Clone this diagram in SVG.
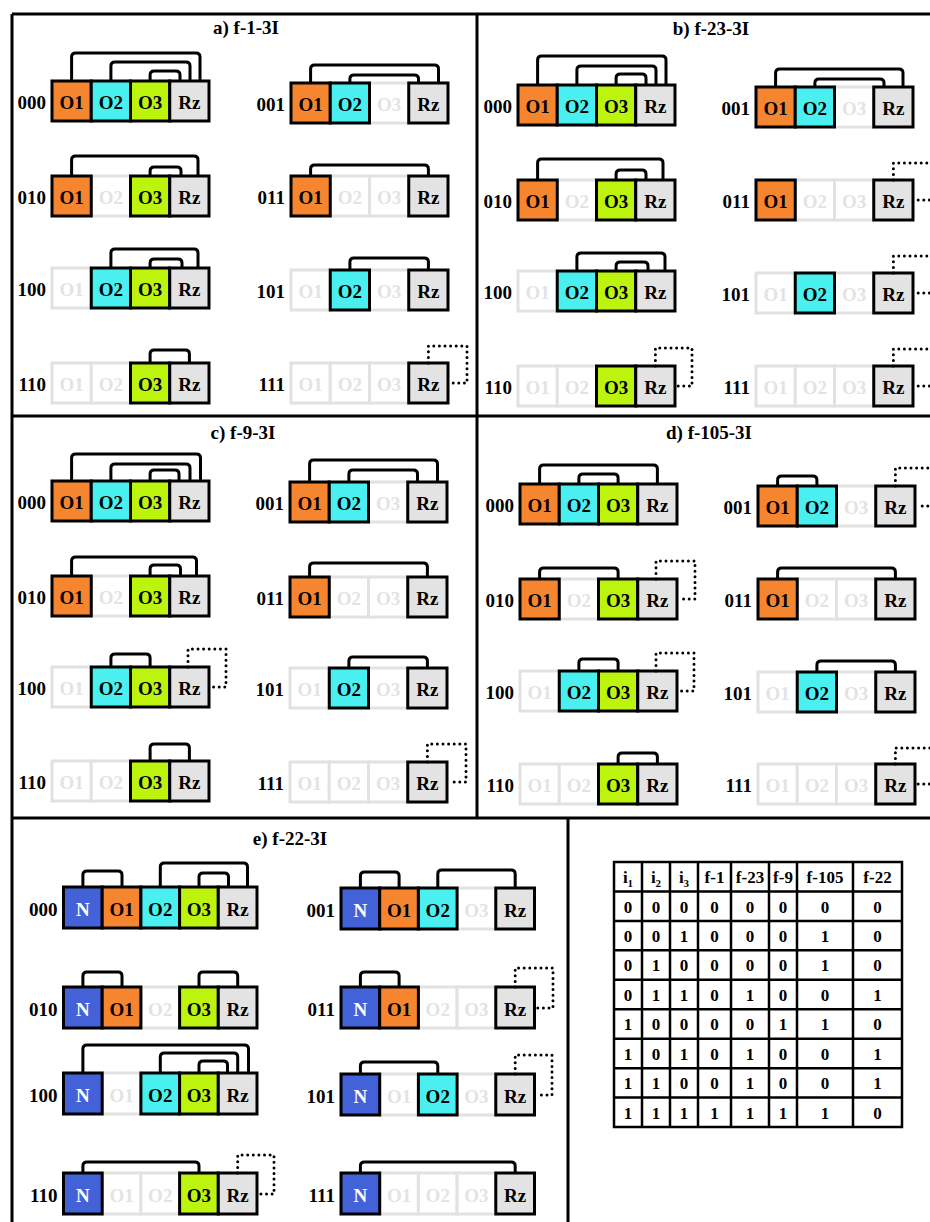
<svg xmlns="http://www.w3.org/2000/svg" width="930" height="1222" viewBox="0 0 930 1222">
<style>
.bg{fill:#fff}
.frame{fill:none;stroke:#000;stroke-width:3}
.on{stroke:#000;stroke-width:3}
.off{fill:#fff;stroke:#e2e2e2;stroke-width:3}
.o1{fill:#f5852f}.o2{fill:#4af0f0}.o3{fill:#bdf40d}.rz{fill:#e3e3e3}.n{fill:#4462d8}
text{font-family:"Liberation Serif","Times New Roman",serif;font-weight:bold}
.t{font-size:19px;text-anchor:middle;fill:#000}
.f{fill:#e3e3e3}
.w{fill:#fff}
.lab{font-size:19px;text-anchor:end}
.ttl{font-size:19px;text-anchor:middle}
.conn{fill:none;stroke:#000;stroke-width:3}
.dot{fill:none;stroke:#000;stroke-width:3;stroke-dasharray:0 5.6;stroke-linecap:round}
.tb{fill:none;stroke:#000;stroke-width:2.5}
.tt{font-size:17px;text-anchor:middle}
</style>
<rect class="bg" width="930" height="1222"/>
<g id="frames">
<path class="frame" d="M12 14H930M12 14V1222M477 14V818M12 416H930M12 818H930M568 818V1222"/>
</g>
<g id="titles">
<text class="ttl" x="246" y="34">a) f-1-3I</text>
<text class="ttl" x="711" y="35">b) f-23-3I</text>
<text class="ttl" x="243" y="439">c) f-9-3I</text>
<text class="ttl" x="709" y="439">d) f-105-3I</text>
<text class="ttl" x="290" y="845">e) f-22-3I</text>
</g>

<!-- Panel a -->
<g id="a000" transform="translate(52,81)">
<rect class="on o1" width="39.25" height="40"/><rect class="on o2" x="39.25" width="39.25" height="40"/><rect class="on o3" x="78.5" width="39.25" height="40"/><rect class="on rz" x="117.75" width="39.25" height="40"/>
<text class="t" x="19.6" y="28">O1</text><text class="t" x="58.9" y="28">O2</text><text class="t" x="98.1" y="28">O3</text><text class="t" x="137.4" y="28">Rz</text>
<text class="lab" x="-6" y="28">000</text>
</g>
<g id="a001" transform="translate(291,83)">
<rect class="off" x="78.5" width="39.25" height="40"/>
<rect class="on o1" width="39.25" height="40"/><rect class="on o2" x="39.25" width="39.25" height="40"/><rect class="on rz" x="117.75" width="39.25" height="40"/>
<text class="t" x="19.6" y="28">O1</text><text class="t" x="58.9" y="28">O2</text><text class="t f" x="98.1" y="28">O3</text><text class="t" x="137.4" y="28">Rz</text>
<text class="lab" x="-6" y="28">001</text>
</g>
<g id="a010" transform="translate(52,176)">
<rect class="off" x="39.25" width="39.25" height="40"/>
<rect class="on o1" width="39.25" height="40"/><rect class="on o3" x="78.5" width="39.25" height="40"/><rect class="on rz" x="117.75" width="39.25" height="40"/>
<text class="t" x="19.6" y="28">O1</text><text class="t f" x="58.9" y="28">O2</text><text class="t" x="98.1" y="28">O3</text><text class="t" x="137.4" y="28">Rz</text>
<text class="lab" x="-6" y="28">010</text>
</g>
<g id="a011" transform="translate(291,176)">
<rect class="off" x="39.25" width="39.25" height="40"/><rect class="off" x="78.5" width="39.25" height="40"/>
<rect class="on o1" width="39.25" height="40"/><rect class="on rz" x="117.75" width="39.25" height="40"/>
<text class="t" x="19.6" y="28">O1</text><text class="t f" x="58.9" y="28">O2</text><text class="t f" x="98.1" y="28">O3</text><text class="t" x="137.4" y="28">Rz</text>
<text class="lab" x="-6" y="28">011</text>
</g>
<g id="a100" transform="translate(52,268)">
<rect class="off" width="39.25" height="40"/>
<rect class="on o2" x="39.25" width="39.25" height="40"/><rect class="on o3" x="78.5" width="39.25" height="40"/><rect class="on rz" x="117.75" width="39.25" height="40"/>
<text class="t f" x="19.6" y="28">O1</text><text class="t" x="58.9" y="28">O2</text><text class="t" x="98.1" y="28">O3</text><text class="t" x="137.4" y="28">Rz</text>
<text class="lab" x="-6" y="28">100</text>
</g>
<g id="a101" transform="translate(291,270)">
<rect class="off" width="39.25" height="40"/><rect class="off" x="78.5" width="39.25" height="40"/>
<rect class="on o2" x="39.25" width="39.25" height="40"/><rect class="on rz" x="117.75" width="39.25" height="40"/>
<text class="t f" x="19.6" y="28">O1</text><text class="t" x="58.9" y="28">O2</text><text class="t f" x="98.1" y="28">O3</text><text class="t" x="137.4" y="28">Rz</text>
<text class="lab" x="-6" y="28">101</text>
</g>
<g id="a110" transform="translate(52,363)">
<rect class="off" width="39.25" height="40"/><rect class="off" x="39.25" width="39.25" height="40"/>
<rect class="on o3" x="78.5" width="39.25" height="40"/><rect class="on rz" x="117.75" width="39.25" height="40"/>
<text class="t f" x="19.6" y="28">O1</text><text class="t f" x="58.9" y="28">O2</text><text class="t" x="98.1" y="28">O3</text><text class="t" x="137.4" y="28">Rz</text>
<text class="lab" x="-6" y="28">110</text>
</g>
<g id="a111" transform="translate(291,363)">
<rect class="off" width="39.25" height="40"/><rect class="off" x="39.25" width="39.25" height="40"/><rect class="off" x="78.5" width="39.25" height="40"/>
<rect class="on rz" x="117.75" width="39.25" height="40"/>
<text class="t f" x="19.6" y="28">O1</text><text class="t f" x="58.9" y="28">O2</text><text class="t f" x="98.1" y="28">O3</text><text class="t" x="137.4" y="28">Rz</text>
<text class="lab" x="-6" y="28">111</text>
</g>

<!-- Panel b -->
<g id="b000" transform="translate(518,85)">
<rect class="on o1" width="39.25" height="40"/><rect class="on o2" x="39.25" width="39.25" height="40"/><rect class="on o3" x="78.5" width="39.25" height="40"/><rect class="on rz" x="117.75" width="39.25" height="40"/>
<text class="t" x="19.6" y="28">O1</text><text class="t" x="58.9" y="28">O2</text><text class="t" x="98.1" y="28">O3</text><text class="t" x="137.4" y="28">Rz</text>
<text class="lab" x="-6" y="28">000</text>
</g>
<g id="b001" transform="translate(756,87)">
<rect class="off" x="78.5" width="39.25" height="40"/>
<rect class="on o1" width="39.25" height="40"/><rect class="on o2" x="39.25" width="39.25" height="40"/><rect class="on rz" x="117.75" width="39.25" height="40"/>
<text class="t" x="19.6" y="28">O1</text><text class="t" x="58.9" y="28">O2</text><text class="t f" x="98.1" y="28">O3</text><text class="t" x="137.4" y="28">Rz</text>
<text class="lab" x="-6" y="28">001</text>
</g>
<g id="b010" transform="translate(518,180)">
<rect class="off" x="39.25" width="39.25" height="40"/>
<rect class="on o1" width="39.25" height="40"/><rect class="on o3" x="78.5" width="39.25" height="40"/><rect class="on rz" x="117.75" width="39.25" height="40"/>
<text class="t" x="19.6" y="28">O1</text><text class="t f" x="58.9" y="28">O2</text><text class="t" x="98.1" y="28">O3</text><text class="t" x="137.4" y="28">Rz</text>
<text class="lab" x="-6" y="28">010</text>
</g>
<g id="b011" transform="translate(756,180)">
<rect class="off" x="39.25" width="39.25" height="40"/><rect class="off" x="78.5" width="39.25" height="40"/>
<rect class="on o1" width="39.25" height="40"/><rect class="on rz" x="117.75" width="39.25" height="40"/>
<text class="t" x="19.6" y="28">O1</text><text class="t f" x="58.9" y="28">O2</text><text class="t f" x="98.1" y="28">O3</text><text class="t" x="137.4" y="28">Rz</text>
<text class="lab" x="-6" y="28">011</text>
</g>
<g id="b100" transform="translate(518,271)">
<rect class="off" width="39.25" height="40"/>
<rect class="on o2" x="39.25" width="39.25" height="40"/><rect class="on o3" x="78.5" width="39.25" height="40"/><rect class="on rz" x="117.75" width="39.25" height="40"/>
<text class="t f" x="19.6" y="28">O1</text><text class="t" x="58.9" y="28">O2</text><text class="t" x="98.1" y="28">O3</text><text class="t" x="137.4" y="28">Rz</text>
<text class="lab" x="-6" y="28">100</text>
</g>
<g id="b101" transform="translate(756,273)">
<rect class="off" width="39.25" height="40"/><rect class="off" x="78.5" width="39.25" height="40"/>
<rect class="on o2" x="39.25" width="39.25" height="40"/><rect class="on rz" x="117.75" width="39.25" height="40"/>
<text class="t f" x="19.6" y="28">O1</text><text class="t" x="58.9" y="28">O2</text><text class="t f" x="98.1" y="28">O3</text><text class="t" x="137.4" y="28">Rz</text>
<text class="lab" x="-6" y="28">101</text>
</g>
<g id="b110" transform="translate(518,366)">
<rect class="off" width="39.25" height="40"/><rect class="off" x="39.25" width="39.25" height="40"/>
<rect class="on o3" x="78.5" width="39.25" height="40"/><rect class="on rz" x="117.75" width="39.25" height="40"/>
<text class="t f" x="19.6" y="28">O1</text><text class="t f" x="58.9" y="28">O2</text><text class="t" x="98.1" y="28">O3</text><text class="t" x="137.4" y="28">Rz</text>
<text class="lab" x="-6" y="28">110</text>
</g>
<g id="b111" transform="translate(756,366)">
<rect class="off" width="39.25" height="40"/><rect class="off" x="39.25" width="39.25" height="40"/><rect class="off" x="78.5" width="39.25" height="40"/>
<rect class="on rz" x="117.75" width="39.25" height="40"/>
<text class="t f" x="19.6" y="28">O1</text><text class="t f" x="58.9" y="28">O2</text><text class="t f" x="98.1" y="28">O3</text><text class="t" x="137.4" y="28">Rz</text>
<text class="lab" x="-6" y="28">111</text>
</g>

<!-- Panel c -->
<g id="c000" transform="translate(52,481)">
<rect class="on o1" width="39.25" height="40"/><rect class="on o2" x="39.25" width="39.25" height="40"/><rect class="on o3" x="78.5" width="39.25" height="40"/><rect class="on rz" x="117.75" width="39.25" height="40"/>
<text class="t" x="19.6" y="28">O1</text><text class="t" x="58.9" y="28">O2</text><text class="t" x="98.1" y="28">O3</text><text class="t" x="137.4" y="28">Rz</text>
<text class="lab" x="-6" y="28">000</text>
</g>
<g id="c001" transform="translate(290,482)">
<rect class="off" x="78.5" width="39.25" height="40"/>
<rect class="on o1" width="39.25" height="40"/><rect class="on o2" x="39.25" width="39.25" height="40"/><rect class="on rz" x="117.75" width="39.25" height="40"/>
<text class="t" x="19.6" y="28">O1</text><text class="t" x="58.9" y="28">O2</text><text class="t f" x="98.1" y="28">O3</text><text class="t" x="137.4" y="28">Rz</text>
<text class="lab" x="-6" y="28">001</text>
</g>
<g id="c010" transform="translate(52,576)">
<rect class="off" x="39.25" width="39.25" height="40"/>
<rect class="on o1" width="39.25" height="40"/><rect class="on o3" x="78.5" width="39.25" height="40"/><rect class="on rz" x="117.75" width="39.25" height="40"/>
<text class="t" x="19.6" y="28">O1</text><text class="t f" x="58.9" y="28">O2</text><text class="t" x="98.1" y="28">O3</text><text class="t" x="137.4" y="28">Rz</text>
<text class="lab" x="-6" y="28">010</text>
</g>
<g id="c011" transform="translate(290,577)">
<rect class="off" x="39.25" width="39.25" height="40"/><rect class="off" x="78.5" width="39.25" height="40"/>
<rect class="on o1" width="39.25" height="40"/><rect class="on rz" x="117.75" width="39.25" height="40"/>
<text class="t" x="19.6" y="28">O1</text><text class="t f" x="58.9" y="28">O2</text><text class="t f" x="98.1" y="28">O3</text><text class="t" x="137.4" y="28">Rz</text>
<text class="lab" x="-6" y="28">011</text>
</g>
<g id="c100" transform="translate(52,667)">
<rect class="off" width="39.25" height="40"/>
<rect class="on o2" x="39.25" width="39.25" height="40"/><rect class="on o3" x="78.5" width="39.25" height="40"/><rect class="on rz" x="117.75" width="39.25" height="40"/>
<text class="t f" x="19.6" y="28">O1</text><text class="t" x="58.9" y="28">O2</text><text class="t" x="98.1" y="28">O3</text><text class="t" x="137.4" y="28">Rz</text>
<text class="lab" x="-6" y="28">100</text>
</g>
<g id="c101" transform="translate(290,668)">
<rect class="off" width="39.25" height="40"/><rect class="off" x="78.5" width="39.25" height="40"/>
<rect class="on o2" x="39.25" width="39.25" height="40"/><rect class="on rz" x="117.75" width="39.25" height="40"/>
<text class="t f" x="19.6" y="28">O1</text><text class="t" x="58.9" y="28">O2</text><text class="t f" x="98.1" y="28">O3</text><text class="t" x="137.4" y="28">Rz</text>
<text class="lab" x="-6" y="28">101</text>
</g>
<g id="c110" transform="translate(52,761)">
<rect class="off" width="39.25" height="40"/><rect class="off" x="39.25" width="39.25" height="40"/>
<rect class="on o3" x="78.5" width="39.25" height="40"/><rect class="on rz" x="117.75" width="39.25" height="40"/>
<text class="t f" x="19.6" y="28">O1</text><text class="t f" x="58.9" y="28">O2</text><text class="t" x="98.1" y="28">O3</text><text class="t" x="137.4" y="28">Rz</text>
<text class="lab" x="-6" y="28">110</text>
</g>
<g id="c111" transform="translate(290,762)">
<rect class="off" width="39.25" height="40"/><rect class="off" x="39.25" width="39.25" height="40"/><rect class="off" x="78.5" width="39.25" height="40"/>
<rect class="on rz" x="117.75" width="39.25" height="40"/>
<text class="t f" x="19.6" y="28">O1</text><text class="t f" x="58.9" y="28">O2</text><text class="t f" x="98.1" y="28">O3</text><text class="t" x="137.4" y="28">Rz</text>
<text class="lab" x="-6" y="28">111</text>
</g>

<!-- Panel d -->
<g id="d000" transform="translate(520,484)">
<rect class="on o1" width="39.25" height="40"/><rect class="on o2" x="39.25" width="39.25" height="40"/><rect class="on o3" x="78.5" width="39.25" height="40"/><rect class="on rz" x="117.75" width="39.25" height="40"/>
<text class="t" x="19.6" y="28">O1</text><text class="t" x="58.9" y="28">O2</text><text class="t" x="98.1" y="28">O3</text><text class="t" x="137.4" y="28">Rz</text>
<text class="lab" x="-6" y="28">000</text>
</g>
<g id="d001" transform="translate(758,486)">
<rect class="off" x="78.5" width="39.25" height="40"/>
<rect class="on o1" width="39.25" height="40"/><rect class="on o2" x="39.25" width="39.25" height="40"/><rect class="on rz" x="117.75" width="39.25" height="40"/>
<text class="t" x="19.6" y="28">O1</text><text class="t" x="58.9" y="28">O2</text><text class="t f" x="98.1" y="28">O3</text><text class="t" x="137.4" y="28">Rz</text>
<text class="lab" x="-6" y="28">001</text>
</g>
<g id="d010" transform="translate(520,579)">
<rect class="off" x="39.25" width="39.25" height="40"/>
<rect class="on o1" width="39.25" height="40"/><rect class="on o3" x="78.5" width="39.25" height="40"/><rect class="on rz" x="117.75" width="39.25" height="40"/>
<text class="t" x="19.6" y="28">O1</text><text class="t f" x="58.9" y="28">O2</text><text class="t" x="98.1" y="28">O3</text><text class="t" x="137.4" y="28">Rz</text>
<text class="lab" x="-6" y="28">010</text>
</g>
<g id="d011" transform="translate(758,579)">
<rect class="off" x="39.25" width="39.25" height="40"/><rect class="off" x="78.5" width="39.25" height="40"/>
<rect class="on o1" width="39.25" height="40"/><rect class="on rz" x="117.75" width="39.25" height="40"/>
<text class="t" x="19.6" y="28">O1</text><text class="t f" x="58.9" y="28">O2</text><text class="t f" x="98.1" y="28">O3</text><text class="t" x="137.4" y="28">Rz</text>
<text class="lab" x="-6" y="28">011</text>
</g>
<g id="d100" transform="translate(520,671)">
<rect class="off" width="39.25" height="40"/>
<rect class="on o2" x="39.25" width="39.25" height="40"/><rect class="on o3" x="78.5" width="39.25" height="40"/><rect class="on rz" x="117.75" width="39.25" height="40"/>
<text class="t f" x="19.6" y="28">O1</text><text class="t" x="58.9" y="28">O2</text><text class="t" x="98.1" y="28">O3</text><text class="t" x="137.4" y="28">Rz</text>
<text class="lab" x="-6" y="28">100</text>
</g>
<g id="d101" transform="translate(758,672)">
<rect class="off" width="39.25" height="40"/><rect class="off" x="78.5" width="39.25" height="40"/>
<rect class="on o2" x="39.25" width="39.25" height="40"/><rect class="on rz" x="117.75" width="39.25" height="40"/>
<text class="t f" x="19.6" y="28">O1</text><text class="t" x="58.9" y="28">O2</text><text class="t f" x="98.1" y="28">O3</text><text class="t" x="137.4" y="28">Rz</text>
<text class="lab" x="-6" y="28">101</text>
</g>
<g id="d110" transform="translate(520,764)">
<rect class="off" width="39.25" height="40"/><rect class="off" x="39.25" width="39.25" height="40"/>
<rect class="on o3" x="78.5" width="39.25" height="40"/><rect class="on rz" x="117.75" width="39.25" height="40"/>
<text class="t f" x="19.6" y="28">O1</text><text class="t f" x="58.9" y="28">O2</text><text class="t" x="98.1" y="28">O3</text><text class="t" x="137.4" y="28">Rz</text>
<text class="lab" x="-6" y="28">110</text>
</g>
<g id="d111" transform="translate(758,764)">
<rect class="off" width="39.25" height="40"/><rect class="off" x="39.25" width="39.25" height="40"/><rect class="off" x="78.5" width="39.25" height="40"/>
<rect class="on rz" x="117.75" width="39.25" height="40"/>
<text class="t f" x="19.6" y="28">O1</text><text class="t f" x="58.9" y="28">O2</text><text class="t f" x="98.1" y="28">O3</text><text class="t" x="137.4" y="28">Rz</text>
<text class="lab" x="-6" y="28">111</text>
</g>

<!-- Panel e -->
<g id="e000" transform="translate(63.5,887)">
<rect class="on n" width="38.7" height="41"/><rect class="on o1" x="38.7" width="38.7" height="41"/><rect class="on o2" x="77.4" width="38.7" height="41"/><rect class="on o3" x="116.1" width="38.7" height="41"/><rect class="on rz" x="154.8" width="38.7" height="41"/>
<text class="t w" x="19.35" y="29">N</text><text class="t" x="58.05" y="29">O1</text><text class="t" x="96.75" y="29">O2</text><text class="t" x="135.45" y="29">O3</text><text class="t" x="174.15" y="29">Rz</text>
<text class="lab" x="-6" y="29">000</text>
</g>
<g id="e001" transform="translate(341,888)">
<rect class="off" x="116.1" width="38.7" height="41"/>
<rect class="on n" width="38.7" height="41"/><rect class="on o1" x="38.7" width="38.7" height="41"/><rect class="on o2" x="77.4" width="38.7" height="41"/><rect class="on rz" x="154.8" width="38.7" height="41"/>
<text class="t w" x="19.35" y="29">N</text><text class="t" x="58.05" y="29">O1</text><text class="t" x="96.75" y="29">O2</text><text class="t f" x="135.45" y="29">O3</text><text class="t" x="174.15" y="29">Rz</text>
<text class="lab" x="-6" y="29">001</text>
</g>
<g id="e010" transform="translate(63.5,987)">
<rect class="off" x="77.4" width="38.7" height="41"/>
<rect class="on n" width="38.7" height="41"/><rect class="on o1" x="38.7" width="38.7" height="41"/><rect class="on o3" x="116.1" width="38.7" height="41"/><rect class="on rz" x="154.8" width="38.7" height="41"/>
<text class="t w" x="19.35" y="29">N</text><text class="t" x="58.05" y="29">O1</text><text class="t f" x="96.75" y="29">O2</text><text class="t" x="135.45" y="29">O3</text><text class="t" x="174.15" y="29">Rz</text>
<text class="lab" x="-6" y="29">010</text>
</g>
<g id="e011" transform="translate(341,987)">
<rect class="off" x="77.4" width="38.7" height="41"/><rect class="off" x="116.1" width="38.7" height="41"/>
<rect class="on n" width="38.7" height="41"/><rect class="on o1" x="38.7" width="38.7" height="41"/><rect class="on rz" x="154.8" width="38.7" height="41"/>
<text class="t w" x="19.35" y="29">N</text><text class="t" x="58.05" y="29">O1</text><text class="t f" x="96.75" y="29">O2</text><text class="t f" x="135.45" y="29">O3</text><text class="t" x="174.15" y="29">Rz</text>
<text class="lab" x="-6" y="29">011</text>
</g>
<g id="e100" transform="translate(63.5,1073)">
<rect class="off" x="38.7" width="38.7" height="41"/>
<rect class="on n" width="38.7" height="41"/><rect class="on o2" x="77.4" width="38.7" height="41"/><rect class="on o3" x="116.1" width="38.7" height="41"/><rect class="on rz" x="154.8" width="38.7" height="41"/>
<text class="t w" x="19.35" y="29">N</text><text class="t f" x="58.05" y="29">O1</text><text class="t" x="96.75" y="29">O2</text><text class="t" x="135.45" y="29">O3</text><text class="t" x="174.15" y="29">Rz</text>
<text class="lab" x="-6" y="29">100</text>
</g>
<g id="e101" transform="translate(341,1074)">
<rect class="off" x="38.7" width="38.7" height="41"/><rect class="off" x="116.1" width="38.7" height="41"/>
<rect class="on n" width="38.7" height="41"/><rect class="on o2" x="77.4" width="38.7" height="41"/><rect class="on rz" x="154.8" width="38.7" height="41"/>
<text class="t w" x="19.35" y="29">N</text><text class="t f" x="58.05" y="29">O1</text><text class="t" x="96.75" y="29">O2</text><text class="t f" x="135.45" y="29">O3</text><text class="t" x="174.15" y="29">Rz</text>
<text class="lab" x="-6" y="29">101</text>
</g>
<g id="e110" transform="translate(63.5,1173)">
<rect class="off" x="38.7" width="38.7" height="41"/><rect class="off" x="77.4" width="38.7" height="41"/>
<rect class="on n" width="38.7" height="41"/><rect class="on o3" x="116.1" width="38.7" height="41"/><rect class="on rz" x="154.8" width="38.7" height="41"/>
<text class="t w" x="19.35" y="29">N</text><text class="t f" x="58.05" y="29">O1</text><text class="t f" x="96.75" y="29">O2</text><text class="t" x="135.45" y="29">O3</text><text class="t" x="174.15" y="29">Rz</text>
<text class="lab" x="-6" y="29">110</text>
</g>
<g id="e111" transform="translate(341,1173)">
<rect class="off" x="38.7" width="38.7" height="41"/><rect class="off" x="77.4" width="38.7" height="41"/><rect class="off" x="116.1" width="38.7" height="41"/>
<rect class="on n" width="38.7" height="41"/><rect class="on rz" x="154.8" width="38.7" height="41"/>
<text class="t w" x="19.35" y="29">N</text><text class="t f" x="58.05" y="29">O1</text><text class="t f" x="96.75" y="29">O2</text><text class="t f" x="135.45" y="29">O3</text><text class="t" x="174.15" y="29">Rz</text>
<text class="lab" x="-6" y="29">111</text>
</g>

<g id="connectors">
<!-- a -->
<path class="conn" d="M71.6 81V57Q71.6 53 75.6 53H196Q200 53 200 57V81"/>
<path class="conn" d="M110.9 81V66Q110.9 62 114.9 62H186Q190 62 190 66V81"/>
<path class="conn" d="M150.1 81V75Q150.1 71 154.1 71H176Q180 71 180 75V81"/>
<path class="conn" d="M310.6 83V69Q310.6 65 314.6 65H434.5Q438.5 65 438.5 69V83"/>
<path class="conn" d="M349.9 83V79Q349.9 75 353.9 75H414.5Q418.5 75 418.5 79V83"/>
<path class="conn" d="M71.6 176V160Q71.6 156 75.6 156H194Q198 156 198 160V176"/>
<path class="conn" d="M150.1 176V171Q150.1 167 154.1 167H177Q181 167 181 171V176"/>
<path class="conn" d="M310.6 176V169Q310.6 165 314.6 165H424.4Q428.4 165 428.4 169V176"/>
<path class="conn" d="M110.9 268V253Q110.9 249 114.9 249H194Q198 249 198 253V268"/>
<path class="conn" d="M150.1 268V263Q150.1 259 154.1 259H178Q182 259 182 263V268"/>
<path class="conn" d="M349.9 270V262Q349.9 258 353.9 258H424.4Q428.4 258 428.4 262V270"/>
<path class="conn" d="M150.1 363V354Q150.1 350 154.1 350H185.4Q189.4 350 189.4 354V363"/>
<path class="dot" d="M428.4 363V346H467V383H450"/>
<!-- b -->
<path class="conn" d="M537.6 85V60Q537.6 56 541.6 56H662Q666 56 666 60V85"/>
<path class="conn" d="M576.9 85V70Q576.9 66 580.9 66H652Q656 66 656 70V85"/>
<path class="conn" d="M616.1 85V78Q616.1 74 620.1 74H642Q646 74 646 78V85"/>
<path class="conn" d="M775.6 87V73Q775.6 69 779.6 69H899Q903 69 903 73V87"/>
<path class="conn" d="M814.9 87V83Q814.9 79 818.9 79H880Q884 79 884 83V87"/>
<path class="conn" d="M537.6 180V163Q537.6 159 541.6 159H659Q663 159 663 163V180"/>
<path class="conn" d="M616.1 180V174Q616.1 170 620.1 170H642Q646 170 646 174V180"/>
<path class="dot" d="M893.4 180V163H932V200H915"/>
<path class="conn" d="M576.9 271V257Q576.9 253 580.9 253H661Q665 253 665 257V271"/>
<path class="conn" d="M616.1 271V266Q616.1 262 620.1 262H644Q648 262 648 266V271"/>
<path class="dot" d="M893.4 273V256H932V293H915"/>
<path class="dot" d="M655.4 366V348H692V386H677"/>
<path class="dot" d="M893.4 366V349H932V386H915"/>
<!-- c -->
<path class="conn" d="M71.6 481V458Q71.6 454 75.6 454H196.5Q200.5 454 200.5 458V481"/>
<path class="conn" d="M110.9 481V468Q110.9 464 114.9 464H186Q190 464 190 468V481"/>
<path class="conn" d="M150.1 481V474Q150.1 470 154.1 470H175Q179 470 179 474V481"/>
<path class="conn" d="M309.6 482V464Q309.6 460 313.6 460H433.5Q437.5 460 437.5 464V482"/>
<path class="conn" d="M348.9 482V474Q348.9 470 352.9 470H413.5Q417.5 470 417.5 474V482"/>
<path class="conn" d="M71.6 576V561Q71.6 557 75.6 557H192.5Q196.5 557 196.5 561V576"/>
<path class="conn" d="M150.1 576V569Q150.1 565 154.1 565H176.5Q180.5 565 180.5 569V576"/>
<path class="conn" d="M309.6 577V567Q309.6 563 313.6 563H423.4Q427.4 563 427.4 567V577"/>
<path class="conn" d="M110.9 667V658Q110.9 654 114.9 654H146.1Q150.1 654 150.1 658V667"/>
<path class="dot" d="M188 667V649H226V687H211"/>
<path class="conn" d="M348.9 668V661Q348.9 657 352.9 657H423.4Q427.4 657 427.4 661V668"/>
<path class="conn" d="M150.1 761V748Q150.1 744 154.1 744H185.4Q189.4 744 189.4 748V761"/>
<path class="dot" d="M427.4 762V744H466V782H449"/>
<!-- d -->
<path class="conn" d="M539.6 484V469Q539.6 465 543.6 465H653.4Q657.4 465 657.4 469V484"/>
<path class="conn" d="M578.9 484V478Q578.9 474 582.9 474H614.1Q618.1 474 618.1 478V484"/>
<path class="conn" d="M777.6 486V480Q777.6 476 781.6 476H812.9Q816.9 476 816.9 480V486"/>
<path class="dot" d="M895.4 486V468H934V506H917"/>
<path class="conn" d="M539.6 579V572Q539.6 568 543.6 568H614.1Q618.1 568 618.1 572V579"/>
<path class="dot" d="M656 579V561H695V599H679"/>
<path class="conn" d="M777.6 579V572Q777.6 568 781.6 568H891.4Q895.4 568 895.4 572V579"/>
<path class="conn" d="M578.9 671V663Q578.9 659 582.9 659H614.1Q618.1 659 618.1 663V671"/>
<path class="dot" d="M656 671V653H694V691H679"/>
<path class="conn" d="M816.9 672V665Q816.9 661 820.9 661H891.4Q895.4 661 895.4 665V672"/>
<path class="conn" d="M618.1 764V757Q618.1 753 622.1 753H653.4Q657.4 753 657.4 757V764"/>
<path class="dot" d="M895.4 764V748H934V784H917"/>
<!-- e -->
<path class="conn" d="M82.9 887V875Q82.9 871 86.9 871H118Q122 871 122 875V887"/>
<path class="conn" d="M160.3 887V867Q160.3 863 164.3 863H243.5Q247.5 863 247.5 867V887"/>
<path class="conn" d="M199 887V877Q199 873 203 873H224.5Q228.5 873 228.5 877V887"/>
<path class="conn" d="M360.4 888V876Q360.4 872 364.4 872H395.1Q399.1 872 399.1 876V888"/>
<path class="conn" d="M437.8 888V874Q437.8 870 441.8 870H511.2Q515.2 870 515.2 874V888"/>
<path class="conn" d="M82.9 987V976Q82.9 972 86.9 972H118Q122 972 122 976V987"/>
<path class="conn" d="M199 987V976Q199 972 203 972H233.7Q237.7 972 237.7 976V987"/>
<path class="conn" d="M360.4 987V976Q360.4 972 364.4 972H395.1Q399.1 972 399.1 976V987"/>
<path class="dot" d="M515.2 987V968H553V1008H537"/>
<path class="conn" d="M82.9 1073V1049Q82.9 1045 86.9 1045H244.5Q248.5 1045 248.5 1049V1073"/>
<path class="conn" d="M160.3 1073V1057Q160.3 1053 164.3 1053H233.7Q237.7 1053 237.7 1057V1073"/>
<path class="conn" d="M199 1073V1065Q199 1061 203 1061H223.5Q227.5 1061 227.5 1065V1073"/>
<path class="conn" d="M360.4 1074V1066Q360.4 1062 364.4 1062H433.8Q437.8 1062 437.8 1066V1074"/>
<path class="dot" d="M515.2 1074V1055H552V1095H537"/>
<path class="conn" d="M82.9 1173V1166Q82.9 1162 86.9 1162H195Q199 1162 199 1166V1173"/>
<path class="dot" d="M237.7 1173V1155H274V1194H259"/>
<path class="conn" d="M360.4 1173V1166Q360.4 1162 364.4 1162H511.2Q515.2 1162 515.2 1166V1173"/>
</g>

<g id="truth-table">
<rect class="tb" x="614" y="862" width="288" height="265"/>
<path class="tb" d="M642 862V1127M670 862V1127M698 862V1127M731 862V1127M769 862V1127M797 862V1127M853 862V1127M614 891.45H902M614 920.9H902M614 950.35H902M614 979.8H902M614 1009.25H902M614 1038.7H902M614 1068.15H902M614 1097.6H902"/>
<text class="tt" x="628" y="883">i<tspan font-size="11" dy="4">1</tspan></text>
<text class="tt" x="656" y="883">i<tspan font-size="11" dy="4">2</tspan></text>
<text class="tt" x="684" y="883">i<tspan font-size="11" dy="4">3</tspan></text>
<text class="tt" x="714.5" y="883">f-1</text>
<text class="tt" x="750" y="883">f-23</text>
<text class="tt" x="783" y="883">f-9</text>
<text class="tt" x="825" y="883">f-105</text>
<text class="tt" x="877.5" y="883">f-22</text>
<g>
<text class="tt" x="628" y="912.5">0</text><text class="tt" x="656" y="912.5">0</text><text class="tt" x="684" y="912.5">0</text><text class="tt" x="714.5" y="912.5">0</text><text class="tt" x="750" y="912.5">0</text><text class="tt" x="783" y="912.5">0</text><text class="tt" x="825" y="912.5">0</text><text class="tt" x="877.5" y="912.5">0</text>
<text class="tt" x="628" y="941.9">0</text><text class="tt" x="656" y="941.9">0</text><text class="tt" x="684" y="941.9">1</text><text class="tt" x="714.5" y="941.9">0</text><text class="tt" x="750" y="941.9">0</text><text class="tt" x="783" y="941.9">0</text><text class="tt" x="825" y="941.9">1</text><text class="tt" x="877.5" y="941.9">0</text>
<text class="tt" x="628" y="971.4">0</text><text class="tt" x="656" y="971.4">1</text><text class="tt" x="684" y="971.4">0</text><text class="tt" x="714.5" y="971.4">0</text><text class="tt" x="750" y="971.4">0</text><text class="tt" x="783" y="971.4">0</text><text class="tt" x="825" y="971.4">1</text><text class="tt" x="877.5" y="971.4">0</text>
<text class="tt" x="628" y="1000.8">0</text><text class="tt" x="656" y="1000.8">1</text><text class="tt" x="684" y="1000.8">1</text><text class="tt" x="714.5" y="1000.8">0</text><text class="tt" x="750" y="1000.8">1</text><text class="tt" x="783" y="1000.8">0</text><text class="tt" x="825" y="1000.8">0</text><text class="tt" x="877.5" y="1000.8">1</text>
<text class="tt" x="628" y="1030.3">1</text><text class="tt" x="656" y="1030.3">0</text><text class="tt" x="684" y="1030.3">0</text><text class="tt" x="714.5" y="1030.3">0</text><text class="tt" x="750" y="1030.3">0</text><text class="tt" x="783" y="1030.3">1</text><text class="tt" x="825" y="1030.3">1</text><text class="tt" x="877.5" y="1030.3">0</text>
<text class="tt" x="628" y="1059.7">1</text><text class="tt" x="656" y="1059.7">0</text><text class="tt" x="684" y="1059.7">1</text><text class="tt" x="714.5" y="1059.7">0</text><text class="tt" x="750" y="1059.7">1</text><text class="tt" x="783" y="1059.7">0</text><text class="tt" x="825" y="1059.7">0</text><text class="tt" x="877.5" y="1059.7">1</text>
<text class="tt" x="628" y="1089.2">1</text><text class="tt" x="656" y="1089.2">1</text><text class="tt" x="684" y="1089.2">0</text><text class="tt" x="714.5" y="1089.2">0</text><text class="tt" x="750" y="1089.2">1</text><text class="tt" x="783" y="1089.2">0</text><text class="tt" x="825" y="1089.2">0</text><text class="tt" x="877.5" y="1089.2">1</text>
<text class="tt" x="628" y="1118.6">1</text><text class="tt" x="656" y="1118.6">1</text><text class="tt" x="684" y="1118.6">1</text><text class="tt" x="714.5" y="1118.6">1</text><text class="tt" x="750" y="1118.6">1</text><text class="tt" x="783" y="1118.6">1</text><text class="tt" x="825" y="1118.6">1</text><text class="tt" x="877.5" y="1118.6">0</text>
</g>
</g>
</svg>
